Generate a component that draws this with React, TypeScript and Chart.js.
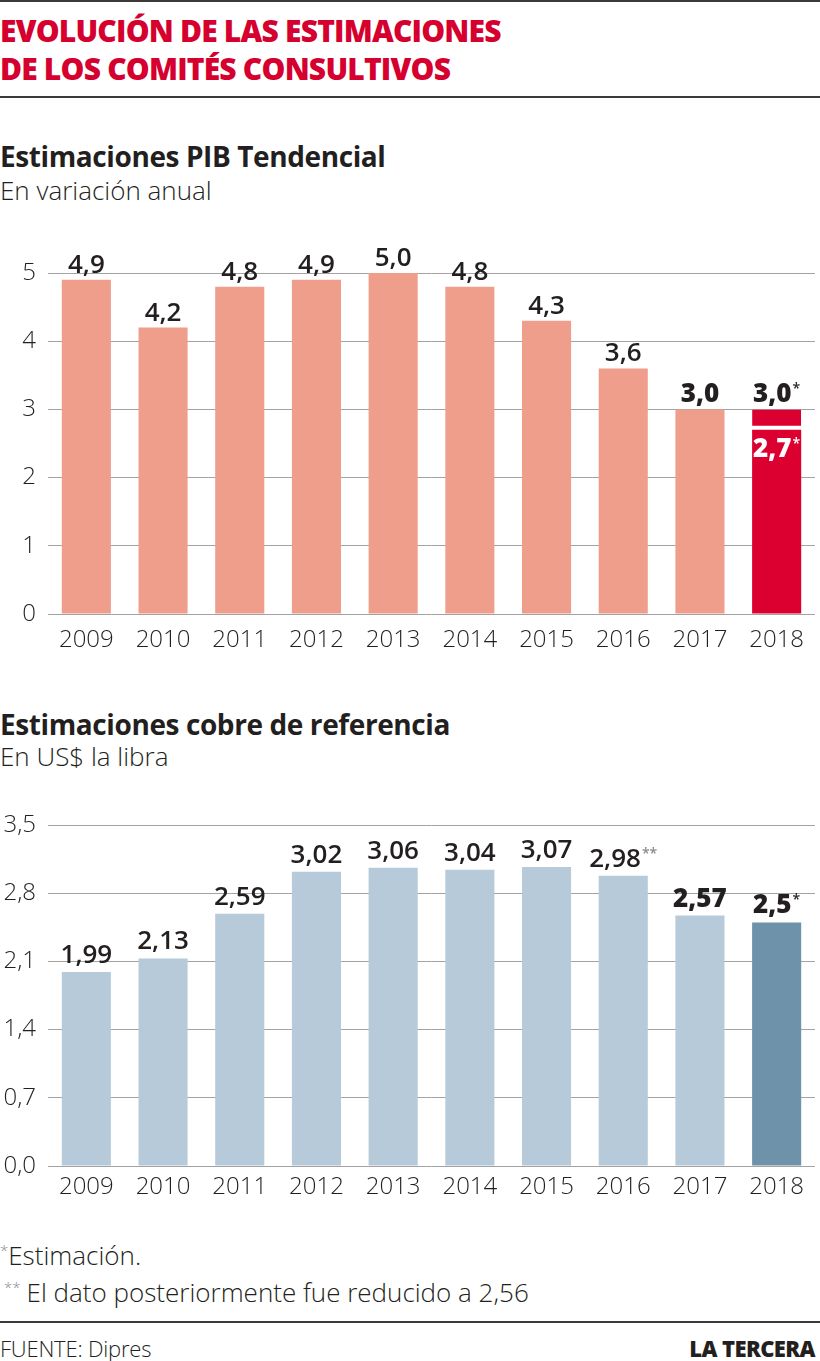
import React, { useEffect, useRef } from "react";
import { Chart, registerables } from "chart.js";

Chart.register(...registerables);

// ---------- Data ----------
const years = ["2009", "2010", "2011", "2012", "2013", "2014", "2015", "2016", "2017", "2018"];

const pibValues = [4.9, 4.2, 4.8, 4.9, 5.0, 4.8, 4.3, 3.6, 3.0, 3.0];
const pibLabels = ["4,9", "4,2", "4,8", "4,9", "5,0", "4,8", "4,3", "3,6", "3,0", "3,0"];
const pibMarks = ["", "", "", "", "", "", "", "", "", "*"];
const pibRevisedIndex = 9;
const pibRevisedValue = 2.7;
const pibRevisedLabel = "2,7";
const pibTickValues = [0, 1, 2, 3, 4, 5];

const cobreValues = [1.99, 2.13, 2.59, 3.02, 3.06, 3.04, 3.07, 2.98, 2.57, 2.5];
const cobreLabels = ["1,99", "2,13", "2,59", "3,02", "3,06", "3,04", "3,07", "2,98", "2,57", "2,5"];
const cobreMarks = ["", "", "", "", "", "", "", "**", "", "*"];
const cobreTickValues = [0, 0.7, 1.4, 2.1, 2.8, 3.5];
const cobreTickLabels = ["0,0", "0,7", "1,4", "2,1", "2,8", "3,5"];

const boldIndices = [8, 9];

// ---------- Styles ----------
const FONT = "'Open Sans', 'Noto Sans', sans-serif";
const TEXT = "#231f20";
const GRID = "#a3a3a3";
const SALMON = "#ef9e8c";
const RED = "#dc0030";
const LIGHTBLUE = "#b6cad9";
const DARKBLUE = "#6d92aa";

function drawValueLabel(
  ctx: CanvasRenderingContext2D,
  cx: number,
  baseline: number,
  text: string,
  mark: string,
  bold: boolean,
  color: string,
  markColor: string
) {
  ctx.save();
  const mainFont = `${bold ? 800 : 600} 26px ${FONT}`;
  const markFont = `600 14px ${FONT}`;
  ctx.font = mainFont;
  const w1 = ctx.measureText(text).width;
  ctx.font = markFont;
  const w2 = mark ? ctx.measureText(mark).width + 1 : 0;
  const start = cx - (w1 + w2) / 2;
  ctx.textBaseline = "alphabetic";
  ctx.textAlign = "left";
  ctx.fillStyle = color;
  ctx.font = mainFont;
  ctx.fillText(text, start, baseline);
  if (mark) {
    ctx.font = markFont;
    ctx.fillStyle = markColor;
    ctx.fillText(mark, start + w1 + 1, baseline - 9);
  }
  ctx.restore();
}

const tickFont = { family: FONT, size: 24, weight: 300 as any };

function PibChart() {
  const ref = useRef<HTMLCanvasElement | null>(null);
  useEffect(() => {
    if (!ref.current) return;
    const base = pibValues.map((v, i) => (i === pibRevisedIndex ? pibRevisedValue : v));
    const top = pibValues.map((v, i) => (i === pibRevisedIndex ? v - pibRevisedValue : null));
    const labelPlugin = {
      id: "pibLabels",
      afterDatasetsDraw(chart: any) {
        const ctx = chart.ctx;
        const y = chart.scales.y;
        const meta = chart.getDatasetMeta(0);
        meta.data.forEach((bar: any, i: number) => {
          const yp = y.getPixelForValue(pibValues[i]);
          drawValueLabel(ctx, bar.x, yp - 7, pibLabels[i], pibMarks[i], boldIndices.includes(i), TEXT, TEXT);
        });
        const rb = meta.data[pibRevisedIndex];
        const yr = y.getPixelForValue(pibRevisedValue);
        drawValueLabel(ctx, rb.x, yr + 27, pibRevisedLabel, "*", true, "#ffffff", "#ffffff");
      },
    };
    const chart = new Chart(ref.current, {
      type: "bar",
      data: {
        labels: years,
        datasets: [
          {
            data: base,
            backgroundColor: years.map((_, i) => (i === pibRevisedIndex ? RED : SALMON)),
            barPercentage: 0.64,
            categoryPercentage: 1,
          },
          {
            data: top as any,
            backgroundColor: RED,
            borderColor: "#ffffff",
            borderWidth: { top: 0, left: 0, right: 0, bottom: 4 } as any,
            borderSkipped: false,
            barPercentage: 0.64,
            categoryPercentage: 1,
          },
        ],
      },
      options: {
        responsive: false,
        animation: false,
        devicePixelRatio: 1,
        layout: { padding: { top: 58, right: 5, left: 0, bottom: 0 } },
        plugins: { legend: { display: false }, tooltip: { enabled: false } },
        scales: {
          x: {
            stacked: true,
            grid: { display: false, drawTicks: false },
            border: { display: false },
            ticks: { color: TEXT, font: tickFont, padding: 12 },
            afterFit: (s: any) => {
              s.height = 51;
            },
          },
          y: {
            stacked: true,
            min: 0,
            max: 5,
            afterBuildTicks: (s: any) => {
              s.ticks = pibTickValues.map((v) => ({ value: v }));
            },
            grid: { color: GRID, lineWidth: 1, drawTicks: false },
            border: { display: false },
            ticks: {
              color: TEXT,
              font: tickFont,
              padding: 12,
              callback: (v: any) => String(v),
            },
            afterFit: (s: any) => {
              s.width = 48;
            },
          },
        },
      },
      plugins: [labelPlugin],
    });
    return () => chart.destroy();
  }, []);
  return <canvas ref={ref} width={820} height={450} style={{ display: "block" }} />;
}

function CobreChart() {
  const ref = useRef<HTMLCanvasElement | null>(null);
  useEffect(() => {
    if (!ref.current) return;
    const labelPlugin = {
      id: "cobreLabels",
      afterDatasetsDraw(chart: any) {
        const ctx = chart.ctx;
        const y = chart.scales.y;
        const meta = chart.getDatasetMeta(0);
        meta.data.forEach((bar: any, i: number) => {
          const yp = y.getPixelForValue(cobreValues[i]);
          drawValueLabel(
            ctx,
            bar.x,
            yp - 9,
            cobreLabels[i],
            cobreMarks[i],
            boldIndices.includes(i),
            TEXT,
            cobreMarks[i] === "**" ? "#8a8a8a" : TEXT
          );
        });
      },
    };
    const chart = new Chart(ref.current, {
      type: "bar",
      data: {
        labels: years,
        datasets: [
          {
            data: cobreValues,
            backgroundColor: years.map((_, i) => (i === years.length - 1 ? DARKBLUE : LIGHTBLUE)),
            barPercentage: 0.64,
            categoryPercentage: 1,
          },
        ],
      },
      options: {
        responsive: false,
        animation: false,
        devicePixelRatio: 1,
        layout: { padding: { top: 35, right: 5, left: 0, bottom: 0 } },
        plugins: { legend: { display: false }, tooltip: { enabled: false } },
        scales: {
          x: {
            grid: { display: false, drawTicks: false },
            border: { display: false },
            ticks: { color: TEXT, font: tickFont, padding: 7 },
            afterFit: (s: any) => {
              s.height = 44;
            },
          },
          y: {
            min: 0,
            max: 3.5,
            afterBuildTicks: (s: any) => {
              s.ticks = cobreTickValues.map((v) => ({ value: v }));
            },
            grid: { color: GRID, lineWidth: 1, drawTicks: false },
            border: { display: false },
            ticks: {
              color: TEXT,
              font: tickFont,
              padding: 12,
              callback: (_v: any, i: number) => cobreTickLabels[i],
            },
            afterFit: (s: any) => {
              s.width = 48;
            },
          },
        },
      },
      plugins: [labelPlugin],
    });
    return () => chart.destroy();
  }, []);
  return <canvas ref={ref} width={820} height={420} style={{ display: "block" }} />;
}

const abs = (top: number, extra: React.CSSProperties = {}): React.CSSProperties => ({
  position: "absolute",
  left: 0,
  top,
  margin: 0,
  whiteSpace: "nowrap",
  ...extra,
});

export default function App() {
  const heading: React.CSSProperties = {
    fontFamily: FONT,
    fontWeight: 700,
    fontSize: 28,
    color: TEXT,
    letterSpacing: -0.4,
    lineHeight: "32px",
  };
  const sub: React.CSSProperties = {
    fontFamily: FONT,
    fontWeight: 300,
    fontSize: 26,
    color: TEXT,
    letterSpacing: 0,
    lineHeight: "30px",
  };
  const markStyle: React.CSSProperties = { fontSize: 15, verticalAlign: "9px", color: "#8a8a8a" };
  return (
    <div style={{ position: "absolute", left: 0, top: 0, width: 820, height: 1361, background: "#fff", overflow: "hidden" }}>
      <div style={abs(0, { width: 820, height: 2, background: "#3a3a3a" })} />
      <div
        style={abs(12, {
          fontFamily: FONT,
          fontWeight: 800,
          fontSize: 30,
          color: "#d6002f",
          lineHeight: "38px",
          letterSpacing: -0.8,
        })}
      >
        EVOLUCIÓN DE LAS ESTIMACIONES
        <br />
        DE LOS COMITÉS CONSULTIVOS
      </div>
      <div style={abs(96, { width: 820, height: 2, background: "#3a3a3a" })} />

      <div style={abs(140, heading)}>Estimaciones PIB Tendencial</div>
      <div style={abs(175, sub)}>En variación anual</div>
      <div style={abs(215, { width: 820 })}>
        <PibChart />
      </div>

      <div style={abs(708, heading)}>Estimaciones cobre de referencia</div>
      <div style={abs(741, sub)}>En US$ la libra</div>
      <div style={abs(790, { width: 820 })}>
        <CobreChart />
      </div>

      <div style={abs(1235, sub)}>
        <span style={markStyle}>*</span>Estimación.
      </div>
      <div style={abs(1272, sub)}>
        <span style={{ ...markStyle, marginLeft: 4, marginRight: 6 }}>**</span>El dato posteriormente fue reducido a 2,56
      </div>
      <div style={abs(1321, { width: 820, height: 2, background: "#3a3a3a" })} />
      <div style={abs(1333, { ...sub, fontSize: 22, letterSpacing: -0.2 })}>FUENTE: Dipres</div>
      <div
        style={{
          position: "absolute",
          right: 5,
          top: 1333,
          fontFamily: FONT,
          fontWeight: 800,
          fontSize: 22,
          letterSpacing: -0.6,
          color: TEXT,
          lineHeight: "30px",
        }}
      >
        LA TERCERA
      </div>
    </div>
  );
}
